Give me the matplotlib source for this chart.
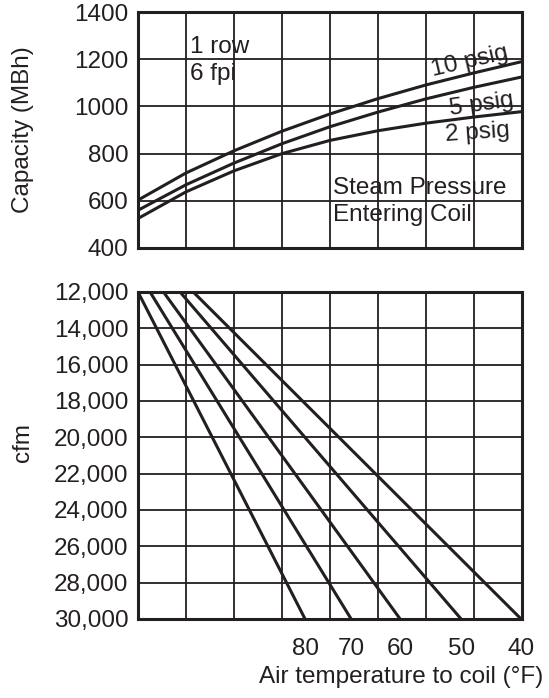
import matplotlib
import matplotlib.pyplot as plt

matplotlib.use("Agg")

INK = "#231f20"
FS = 17.5

# top panel: capacity curves read at each grid column (0..8)
columns = [0, 1, 2, 3, 4, 5, 6, 7, 8]
capacity_10psig = [603, 718, 812, 895, 968, 1033, 1091, 1142, 1190]
capacity_5psig = [560, 668, 760, 842, 914, 976, 1032, 1081, 1125]
capacity_2psig = [525, 638, 727, 800, 856, 897, 929, 955, 978]

# bottom panel: straight cfm lines (start at 12,000 cfm, end at 30,000 cfm)
cfm_range = [12000, 30000]
line_starts = [0, 0.25, 0.53, 0.875, 1.15]
line_ends = [3.48, 4.44, 5.46, 6.73, 7.98]
air_temps = ["80", "70", "60", "50", "40"]

capacity_ticks = [400, 600, 800, 1000, 1200, 1400]
cfm_ticks = [12000, 14000, 16000, 18000, 20000, 22000, 24000, 26000, 28000, 30000]


def style_axes(ax):
    for spine in ax.spines.values():
        spine.set_linewidth(2.2)
        spine.set_color(INK)
    ax.tick_params(which="both", length=0, labelsize=FS, colors=INK, pad=7)
    ax.set_axisbelow(True)


def plot_chart():
    plt.rcParams["font.family"] = ["Liberation Sans", "DejaVu Sans"]
    fig = plt.figure(figsize=(5.49, 6.98), dpi=100)

    # ---- top panel ----
    top = fig.add_axes([0.2514, 0.6447, 0.6995, 0.3381])
    style_axes(top)
    top.set_xlim(0, 8)
    top.set_ylim(400, 1400)
    top.set_xticks(columns)
    top.set_xticklabels([])
    top.set_yticks(capacity_ticks)
    top.grid(True, color=INK, linewidth=1.3)
    for values in (capacity_10psig, capacity_5psig, capacity_2psig):
        top.plot(columns, values, color=INK, linewidth=2.2)
    top.set_ylabel("Capacity (MBh)", fontsize=FS, color=INK)
    top.yaxis.set_label_coords(-0.27, 0.5)

    top.text(1.08, 1252, "1 row", fontsize=FS, color=INK, va="center")
    top.text(1.08, 1139, "6 fpi", fontsize=FS, color=INK, va="center")
    top.text(4.06, 654, "Steam Pressure", fontsize=FS, color=INK, va="center")
    top.text(4.06, 540, "Entering Coil", fontsize=FS, color=INK, va="center")
    top.text(6.92, 1190, "10 psig", fontsize=FS, color=INK,
             ha="center", va="center", rotation=13)
    top.text(7.16, 1008, "5 psig", fontsize=FS, color=INK,
             ha="center", va="center", rotation=8)
    top.text(7.08, 887, "2 psig", fontsize=FS, color=INK,
             ha="center", va="center", rotation=4)

    # ---- bottom panel ----
    bottom = fig.add_axes([0.2514, 0.1132, 0.6995, 0.4685])
    style_axes(bottom)
    bottom.set_xlim(0, 8)
    bottom.set_ylim(cfm_range[1], cfm_range[0])
    bottom.set_xticks(columns, minor=True)
    bottom.set_xticks(line_ends)
    bottom.set_xticklabels(air_temps)
    bottom.tick_params(axis="x", pad=14)
    bottom.set_yticks(cfm_ticks)
    bottom.set_yticklabels([f"{v:,}" for v in cfm_ticks])
    bottom.grid(True, which="minor", axis="x", color=INK, linewidth=1.3)
    bottom.grid(True, which="major", axis="y", color=INK, linewidth=1.3)
    for start, end in zip(line_starts, line_ends):
        bottom.plot([start, end], cfm_range, color=INK, linewidth=2.2)
    bottom.set_ylabel("cfm", fontsize=FS, color=INK)
    bottom.yaxis.set_label_coords(-0.27, 0.54)
    bottom.set_xlabel("Air temperature to coil (°F)", fontsize=FS, color=INK)
    bottom.xaxis.set_label_coords(1.055, -0.145)
    bottom.xaxis.label.set_horizontalalignment("right")

    fig.savefig("out.png", dpi=100)


if __name__ == "__main__":
    plot_chart()
